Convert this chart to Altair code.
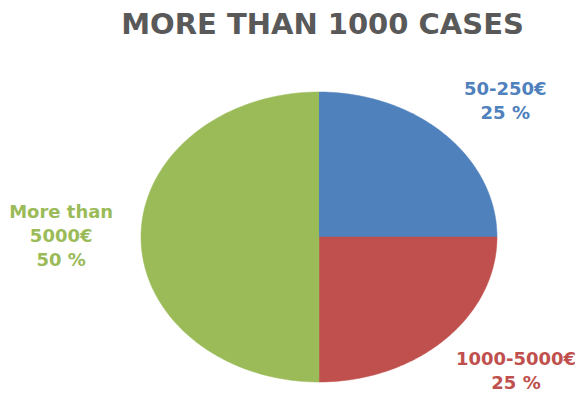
import altair as alt
import pandas as pd

# ---- data ----
categories = ["50-250€", "1000-5000€", "More than 5000€"]
label_text = ["50-250€", "1000-5000€", "More than\n5000€"]
shares = [25, 25, 50]
colors = ["#4F81BD", "#C0504D", "#9BBB59"]
title_text = "MORE THAN 1000 CASES"

df = pd.DataFrame({
    "cat": categories,
    "label": label_text,
    "share": shares,
    "idx": list(range(len(categories))),
    "nlines": [s.count("\n") + 2 for s in label_text],
    "maxlen": [max(len(p) for p in s.split("\n")) for s in label_text],
})

# ---- layout (pixels of the plot area) ----
W, H = 567, 344
CX, CY = 311, 187          # pie centre inside plot area
RX, RY = 178, 145          # elliptical radii
LH = 24                    # label line height
FONT = "DejaVu Sans"

xscale = alt.Scale(domain=[-CX / RX, (W - CX) / RX], nice=False, zero=False)
yscale = alt.Scale(domain=[-(H - CY) / RY, CY / RY], nice=False, zero=False)
color = alt.Color("cat:N", scale=alt.Scale(domain=categories, range=colors), legend=None)

base = (
    alt.Chart(df)
    .transform_joinaggregate(total="sum(share)")
    .transform_window(cum="sum(share)", sort=[alt.SortField("idx")], frame=[None, 0])
    .transform_calculate(a0="2*PI*(datum.cum-datum.share)/datum.total")
    .transform_calculate(a1="2*PI*datum.cum/datum.total")
)

pie = (
    base.transform_calculate(t="sequence(-1, 121)")
    .transform_flatten(["t"])
    .transform_calculate(ang="datum.a0 + max(datum.t,0)/120*(datum.a1-datum.a0)")
    .transform_calculate(r="datum.t < 0 ? 0 : 1")
    .transform_calculate(px="datum.r*sin(datum.ang)")
    .transform_calculate(py="datum.r*cos(datum.ang)")
    .mark_line(filled=True, strokeWidth=0.5, interpolate="linear")
    .encode(
        x=alt.X("px:Q", scale=xscale, axis=None),
        y=alt.Y("py:Q", scale=yscale, axis=None),
        color=color,
        stroke=alt.Stroke("cat:N", scale=alt.Scale(domain=categories, range=colors), legend=None),
        order=alt.Order("t:Q"),
        detail="cat:N",
    )
)

labels = (
    base.transform_calculate(mid="(datum.a0+datum.a1)/2")
    .transform_calculate(side="sin(datum.mid) >= 0 ? 1 : -1")
    .transform_calculate(
        lx0=f"1.135*sin(datum.mid) + datum.side*datum.maxlen*6.2/{RX}"
    )
    .transform_calculate(
        lx=f"min(datum.lx0, ({W - 1 - CX} - datum.maxlen*5.8)/{RX})"
    )
    .transform_calculate(
        ly=f"1.315*cos(datum.mid) + (datum.nlines-1)*{LH / 2}/{RY}"
    )
    .transform_calculate(txt="datum.label + '\\n' + datum.share + ' %'")
    .mark_text(font=FONT, fontWeight="bold", fontSize=18, lineHeight=LH,
               lineBreak="\n", align="center", baseline="middle")
    .encode(
        x=alt.X("lx:Q", scale=xscale, axis=None),
        y=alt.Y("ly:Q", scale=yscale, axis=None),
        text="txt:N",
        color=color,
    )
)

chart = (
    alt.layer(pie, labels)
    .properties(
        width=W,
        height=H,
        background="white",
        padding={"left": 0, "right": 0, "top": 42, "bottom": 0},
        autosize=alt.AutoSizeParams(type="none"),
        title=alt.TitleParams(
            title_text, anchor="middle", dx=322.5 - (8 + W / 2), offset=10, fontSize=29,
            font=FONT, fontWeight="bold", color="#595959",
        ),
    )
    .configure_view(strokeWidth=0, stroke="transparent")
)

chart.save("out.html", embed_options={"renderer": "svg", "actions": False})
